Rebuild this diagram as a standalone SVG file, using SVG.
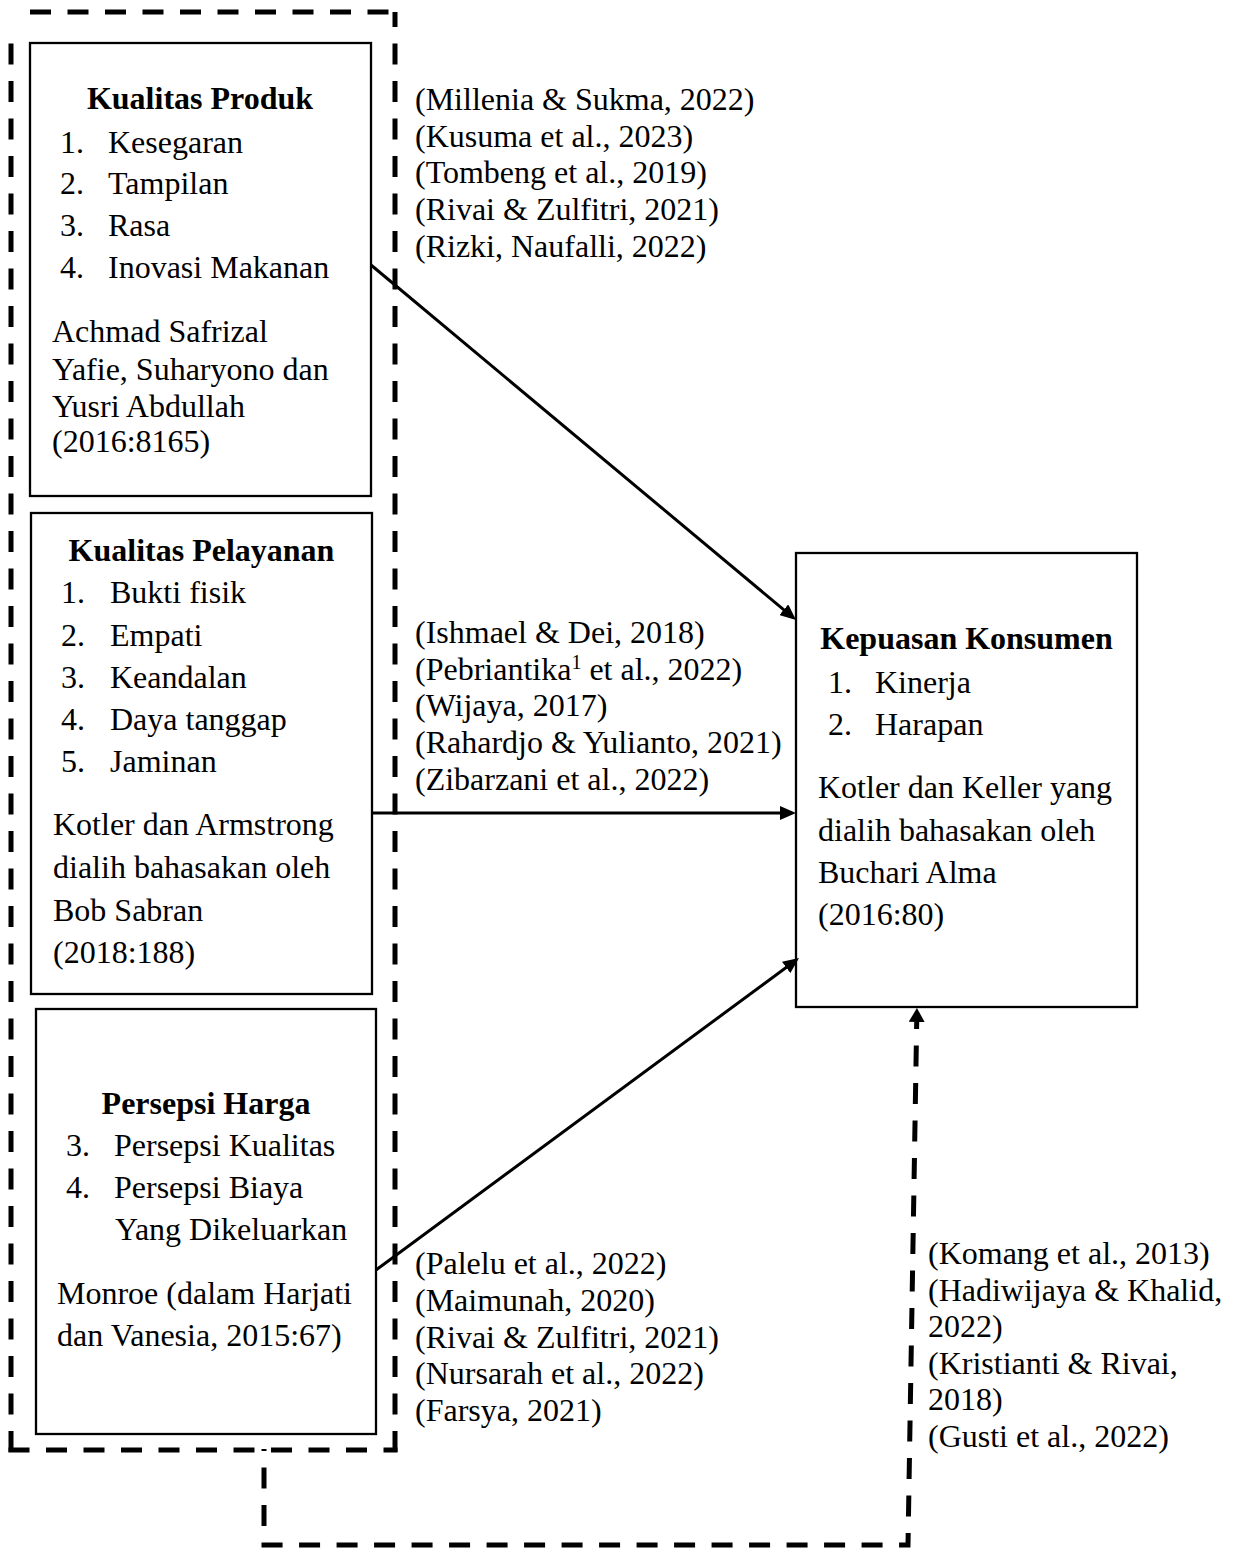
<svg xmlns="http://www.w3.org/2000/svg" width="1237" height="1549" viewBox="0 0 1237 1549">
<style>
.box{fill:#fff;stroke:#000;stroke-width:2.3}
.t{font-family:"Liberation Serif","Times New Roman",serif;font-size:32px;fill:#000}
.b{font-weight:bold}
.mid{text-anchor:middle}
.arrow{stroke:#000;stroke-width:3;fill:none;marker-end:url(#ah)}
.dash{stroke:#000;stroke-width:5;fill:none;stroke-dasharray:21 16.5}
</style>
<defs>
<marker id="ah" markerUnits="userSpaceOnUse" markerWidth="16" markerHeight="14" viewBox="0 0 16 14" refX="8" refY="7" orient="auto">
<path d="M0,0 L16,7 L0,14 z" fill="#000"/>
</marker>
<marker id="ahd" markerUnits="userSpaceOnUse" markerWidth="14" markerHeight="16" viewBox="0 0 14 16" refX="0" refY="8" orient="auto-start-reverse">
<path d="M0,0 L14,8 L0,16 z" fill="#000"/>
</marker>
</defs>
<rect width="1237" height="1549" fill="#fff"/>

<g id="independent-group">
<path class="dash" d="M11,1452 V40"/>
<path class="dash" d="M8.5,1450 H397.5"/>
<path class="dash" d="M395,1452 V12"/>
<path class="dash" d="M30,12 H395"/>
</g>

<g id="kualitas-produk">
<rect class="box" x="30" y="43" width="341" height="453"/>
<text class="t b mid" x="200" y="109">Kualitas Produk</text>
<text class="t" x="60" y="153">1.</text><text class="t" x="108" y="153">Kesegaran</text>
<text class="t" x="60" y="194">2.</text><text class="t" x="108" y="194">Tampilan</text>
<text class="t" x="60" y="236">3.</text><text class="t" x="108" y="236">Rasa</text>
<text class="t" x="60" y="278">4.</text><text class="t" x="108" y="278">Inovasi Makanan</text>
<text class="t" x="52" y="342">Achmad Safrizal</text>
<text class="t" x="52" y="380">Yafie, Suharyono dan</text>
<text class="t" x="52" y="417">Yusri Abdullah</text>
<text class="t" x="52" y="452">(2016:8165)</text>
</g>

<g id="kualitas-pelayanan">
<rect class="box" x="31" y="513" width="341" height="481"/>
<text class="t b mid" x="201.5" y="561">Kualitas Pelayanan</text>
<text class="t" x="61" y="603">1.</text><text class="t" x="110" y="603">Bukti fisik</text>
<text class="t" x="61" y="646">2.</text><text class="t" x="110" y="646">Empati</text>
<text class="t" x="61" y="688">3.</text><text class="t" x="110" y="688">Keandalan</text>
<text class="t" x="61" y="730">4.</text><text class="t" x="110" y="730">Daya tanggap</text>
<text class="t" x="61" y="772">5.</text><text class="t" x="110" y="772">Jaminan</text>
<text class="t" x="53" y="835">Kotler dan Armstrong</text>
<text class="t" x="53" y="878">dialih bahasakan oleh</text>
<text class="t" x="53" y="921">Bob Sabran</text>
<text class="t" x="53" y="963">(2018:188)</text>
</g>

<g id="persepsi-harga">
<rect class="box" x="36" y="1009" width="340" height="425"/>
<text class="t b mid" x="206" y="1114">Persepsi Harga</text>
<text class="t" x="66" y="1156">3.</text><text class="t" x="114" y="1156">Persepsi Kualitas</text>
<text class="t" x="66" y="1198">4.</text><text class="t" x="114" y="1198">Persepsi Biaya</text>
<text class="t" x="115" y="1240">Yang Dikeluarkan</text>
<text class="t" x="57" y="1304">Monroe (dalam Harjati</text>
<text class="t" x="57" y="1346">dan Vanesia, 2015:67)</text>
</g>

<g id="kepuasan-konsumen">
<rect class="box" x="796" y="553" width="341" height="454"/>
<text class="t b mid" x="966.5" y="649">Kepuasan Konsumen</text>
<text class="t" x="828" y="693">1.</text><text class="t" x="875" y="693">Kinerja</text>
<text class="t" x="828" y="735">2.</text><text class="t" x="875" y="735">Harapan</text>
<text class="t" x="818" y="798">Kotler dan Keller yang</text>
<text class="t" x="818" y="841">dialih bahasakan oleh</text>
<text class="t" x="818" y="883">Buchari Alma</text>
<text class="t" x="818" y="925">(2016:80)</text>
</g>

<g id="connectors">
<path class="arrow" d="M371,265 L789.9,614.9"/>
<path class="arrow" d="M372,813 L788,813"/>
<path class="arrow" d="M376,1270 L792.6,962.75"/>
<path class="dash" style="stroke-dasharray:21 16.5;stroke-dashoffset:14" marker-start="url(#ahd)" d="M916.7,1022 L908,1545 L264,1545 L264,1449"/>
</g>

<g id="labels-produk">
<text class="t" x="415" y="110">(Millenia &amp; Sukma, 2022)</text>
<text class="t" x="415" y="146.7">(Kusuma et al., 2023)</text>
<text class="t" x="415" y="183.3">(Tombeng et al., 2019)</text>
<text class="t" x="415" y="220">(Rivai &amp; Zulfitri, 2021)</text>
<text class="t" x="415" y="256.7">(Rizki, Naufalli, 2022)</text>
</g>

<g id="labels-pelayanan">
<text class="t" x="415" y="643">(Ishmael &amp; Dei, 2018)</text>
<text class="t" x="415" y="679.7">(Pebriantika<tspan font-size="20" dy="-11">1</tspan><tspan dy="11"> et al., 2022)</tspan></text>
<text class="t" x="415" y="716.3">(Wijaya, 2017)</text>
<text class="t" x="415" y="753">(Rahardjo &amp; Yulianto, 2021)</text>
<text class="t" x="415" y="789.7">(Zibarzani et al., 2022)</text>
</g>

<g id="labels-harga">
<text class="t" x="415" y="1274">(Palelu et al., 2022)</text>
<text class="t" x="415" y="1311">(Maimunah, 2020)</text>
<text class="t" x="415" y="1347.5">(Rivai &amp; Zulfitri, 2021)</text>
<text class="t" x="415" y="1384">(Nursarah et al., 2022)</text>
<text class="t" x="415" y="1421">(Farsya, 2021)</text>
</g>

<g id="labels-simultan">
<text class="t" x="928" y="1264">(Komang et al., 2013)</text>
<text class="t" x="928" y="1300.6">(Hadiwijaya &amp; Khalid,</text>
<text class="t" x="928" y="1337.2">2022)</text>
<text class="t" x="928" y="1373.8">(Kristianti &amp; Rivai,</text>
<text class="t" x="928" y="1410.4">2018)</text>
<text class="t" x="928" y="1447">(Gusti et al., 2022)</text>
</g>
</svg>
